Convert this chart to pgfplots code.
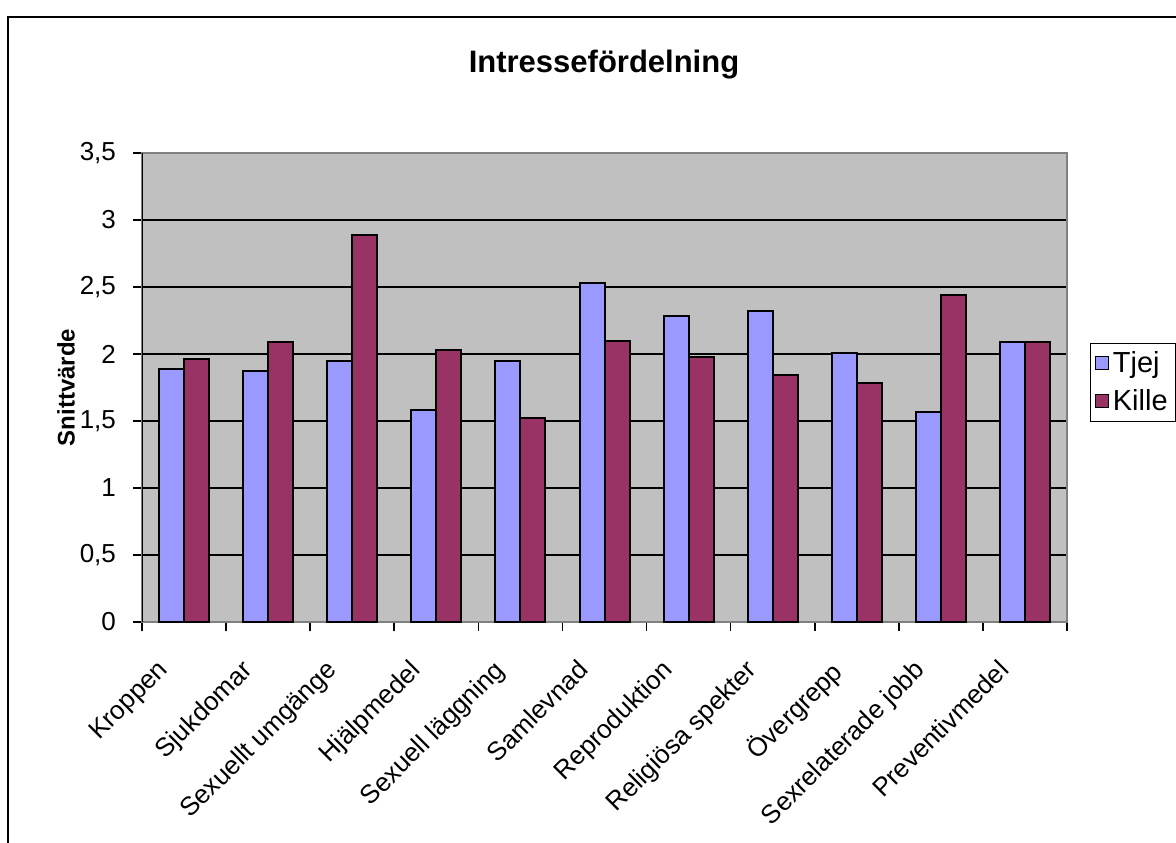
\documentclass[border=0pt]{standalone}
\usepackage{fontspec}
\setmainfont{Liberation Sans}
\usepackage{pgfplots}
\pgfplotsset{compat=1.18}
\definecolor{tjej}{HTML}{9999FF}
\definecolor{kille}{HTML}{993366}
\definecolor{plotbg}{HTML}{C0C0C0}
\newcommand{\lblfont}{\fontsize{13}{15.5}\selectfont}

\begin{document}
\begin{tikzpicture}
\useasboundingbox (0,0) rectangle (588pt,421pt);
\draw[black, line width=1pt] (4pt,-5pt) -- (4pt,412.5pt) -- (600pt,412.5pt);
\node[font=\fontsize{15.5}{18}\selectfont\bfseries] at (302pt,388.5pt) {Intressefördelning};
\begin{axis}[
  at={(71pt,110pt)}, anchor=south west,
  scale only axis, width=462.5pt, height=234.5pt,
  ybar=0pt, bar width=12.5pt,
  xmin=-0.5, xmax=10.5, ymin=0, ymax=3.5,
  xtick={-0.5,0.5,1.5,2.5,3.5,4.5,5.5,6.5,7.5,8.5,9.5,10.5},
  x tick label as interval,
  xticklabels={Kroppen,Sjukdomar,Sexuellt umgänge,Hjälpmedel,Sexuell läggning,Samlevnad,Reproduktion,Religiösa spekter,Övergrepp,Sexrelaterade jobb,Preventivmedel},
  x tick label style={xshift=-14pt, yshift=-12pt, rotate=45, anchor=north east, font=\lblfont, inner sep=1pt},
  ytick={0,0.5,1,1.5,2,2.5,3,3.5},
  /pgf/number format/assume math mode=true,
  yticklabel style={/pgf/number format/use comma, /pgf/number format/fixed, font=\lblfont, xshift=-5pt},
  ymajorgrids, grid style={black, line width=1pt},
  axis background/.style={fill=plotbg},
  axis line style={draw=gray, line width=1pt},
  tick align=outside, tick pos=left, major tick length=4.5pt,
  tick style={black, line width=0.8pt},
  ylabel={\textbf{Snittvärde}},
  ylabel style={at={(axis description cs:-0.0822,0.5)}, anchor=center, font=\fontsize{12}{14}\selectfont},
  legend style={at={(1.0249,0.5949)}, anchor=north west, draw=black, line width=0.6pt,
    font=\fontsize{14.5}{17}\selectfont, inner sep=2pt, row sep=3pt, legend cell align=left},
  legend image code/.code={\draw[#1, draw=black, line width=0.6pt] (0pt,-3pt) rectangle (6.5pt,3.5pt);},
  every axis plot/.append style={draw=black, line width=1pt},
]
\addplot[fill=tjej] coordinates {(0,1.89) (1,1.87) (2,1.95) (3,1.58) (4,1.95) (5,2.53) (6,2.28) (7,2.32) (8,2.01) (9,1.57) (10,2.09)};
\addlegendentry{Tjej}
\addplot[fill=kille] coordinates {(0,1.96) (1,2.09) (2,2.89) (3,2.03) (4,1.52) (5,2.10) (6,1.98) (7,1.84) (8,1.78) (9,2.44) (10,2.09)};
\addlegendentry{Kille}
\draw[black, line width=1pt] (rel axis cs:0,0) -- (rel axis cs:0,1);
\end{axis}
\end{tikzpicture}
\end{document}
